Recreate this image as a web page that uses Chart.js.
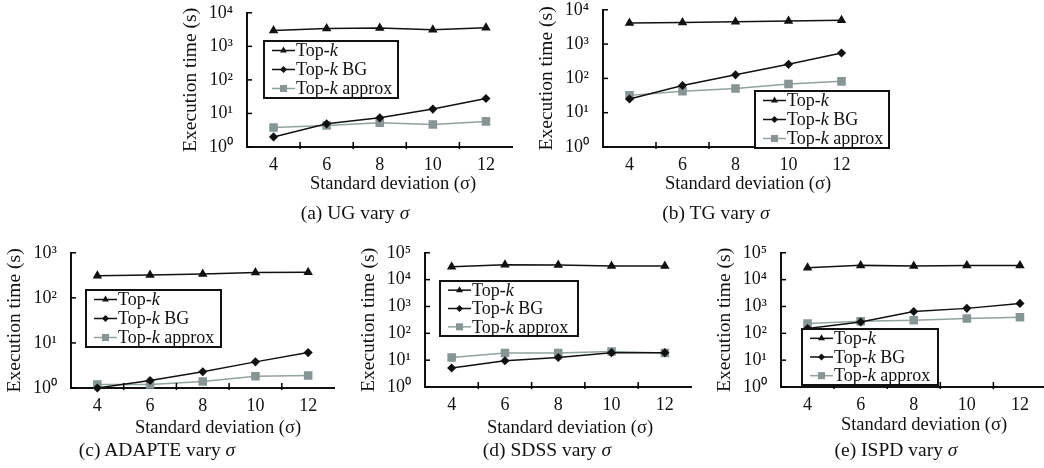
<!DOCTYPE html>
<html>
<head>
<meta charset="utf-8">
<script src="https://cdn.jsdelivr.net/npm/chart.js@4.4.1/dist/chart.umd.min.js"></script>
<style>
  html, body { margin: 0; padding: 0; background: #fff; overflow: hidden; width: 1044px; height: 468px; position: relative; }
  canvas { position: absolute; }
  .lbl { position: absolute; font-family: "Liberation Serif", "Times New Roman", serif; color: #111; white-space: nowrap; transform: translate(-50%, -50%); }
  .xt { font-size: 18.5px; }
  .cap { font-size: 19.5px; }
</style>
</head>
<body>
<script>
const sigma = [4, 6, 8, 10, 12];

// UG
const ugTopk = [2950, 3400, 3550, 3100, 3600];
const ugBG = [2.0, 4.9, 7.4, 13.5, 28];
const ugApprox = [3.8, 4.4, 5.3, 4.7, 5.8];
// TG
const tgTopk = [4100, 4250, 4450, 4750, 5000];
const tgBG = [25, 62, 127, 257, 550];
const tgApprox = [32, 42, 51, 69, 82];
// ADAPTE
const adTopk = [310, 320, 337, 365, 370];
const adBG = [1.0, 1.47, 2.3, 3.8, 6.1];
const adApprox = [1.2, 1.2, 1.4, 1.83, 1.9];
// SDSS
const sdTopk = [30000, 36000, 35000, 32000, 32000];
const sdBG = [5.1, 9.5, 12.5, 19, 19];
const sdApprox = [12.5, 18.6, 18.6, 21, 18.6];
// ISPD
const isTopk = [28000, 34000, 32000, 34000, 34000];
const isBG = [152, 264, 650, 850, 1300];
const isApprox = [230, 280, 305, 355, 400];

const seriesLabels = ['Top-k', 'Top-k BG', 'Top-k approx'];
const xTitle = 'Standard deviation (σ)';
const yTitle = 'Execution time (s)';

const FONT = '"Liberation Serif", "Times New Roman", serif';
const GRAY_LINE = '#93a1a1';
const GRAY_MARK = '#879595';

// page layout of every panel (plot box, legend box, html labels)
const panels = [
  { tag: '(a)', name: 'UG', topk: ugTopk, bg: ugBG, approx: ugApprox, yMax: 1e4,
    box: { left: 247, right: 513, top: 10, bottom: 147 }, legend: { x: 264, y: 41, w: 134, h: 57 },
    xt: [393, 183], cap: [355, 213] },
  { tag: '(b)', name: 'TG', topk: tgTopk, bg: tgBG, approx: tgApprox, yMax: 1e4,
    box: { left: 603, right: 868, top: 7, bottom: 147 }, legend: { x: 755, y: 91, w: 134, h: 57 },
    xt: [748, 183], cap: [716, 213] },
  { tag: '(c)', name: 'ADAPTE', topk: adTopk, bg: adBG, approx: adApprox, yMax: 1e3,
    box: { left: 71, right: 335, top: 250, bottom: 388 }, legend: { x: 86, y: 290, w: 135, h: 57 },
    xt: [218, 427], cap: [157, 450] },
  { tag: '(d)', name: 'SDSS', topk: sdTopk, bg: sdBG, approx: sdApprox, yMax: 1e5,
    box: { left: 425, right: 692, top: 250, bottom: 387 }, legend: { x: 440, y: 281, w: 138, h: 55 },
    xt: [570, 427], cap: [547, 450] },
  { tag: '(e)', name: 'ISPD', topk: isTopk, bg: isBG, approx: isApprox, yMax: 1e5,
    box: { left: 781, right: 1047, top: 250, bottom: 387 }, legend: { x: 802, y: 329, w: 136, h: 56 },
    xt: [924, 424], cap: [896, 450] }
];

const YW = 72, XH = 30, PT = 14, PR = 6;
const SUP = ['⁰', '¹', '²', '³', '⁴', '⁵'];

// same marker shapes as the datasets use
function drawMarker(ctx, style, x, y, r, color) {
  ctx.save();
  ctx.fillStyle = color;
  ctx.beginPath();
  if (style === 'triangle') {
    for (let k = 0; k < 3; k++) {
      const a = -Math.PI / 2 + k * 2 * Math.PI / 3;
      const px = x + Math.cos(a) * r, py = y + Math.sin(a) * r;
      k === 0 ? ctx.moveTo(px, py) : ctx.lineTo(px, py);
    }
  } else if (style === 'rectRot') {
    ctx.moveTo(x, y - r);
    ctx.lineTo(x + r, y);
    ctx.lineTo(x, y + r);
    ctx.lineTo(x - r, y);
  } else {
    const s = Math.SQRT1_2 * r;
    ctx.rect(x - s, y - s, 2 * s, 2 * s);
  }
  ctx.closePath();
  ctx.fill();
  ctx.restore();
}

// inward tick marks, like the original figure
const tickMarks = {
  id: 'tickMarks',
  afterDatasetsDraw(chart) {
    const { ctx, scales: { x, y } } = chart;
    ctx.save();
    ctx.strokeStyle = '#000';
    ctx.lineWidth = 1.5;
    [5, 7, 9, 11].forEach(v => {
      const px = x.getPixelForValue(v);
      ctx.beginPath();
      ctx.moveTo(px, y.bottom + 2);
      ctx.lineTo(px, y.bottom - 5);
      ctx.stroke();
    });
    y.ticks.forEach(t => {
      const py = y.getPixelForValue(t.value);
      ctx.beginPath();
      ctx.moveTo(x.left, py);
      ctx.lineTo(x.left + 5, py);
      ctx.stroke();
    });
    ctx.restore();
  }
};

// boxed legend with italic k
const boxLegend = {
  id: 'boxLegend',
  afterDraw(chart, args, opts) {
    const { ctx } = chart;
    const b = opts.box;
    ctx.save();
    ctx.fillStyle = '#fff';
    ctx.fillRect(b.x, b.y, b.w, b.h);
    ctx.strokeStyle = '#111';
    ctx.lineWidth = 2;
    ctx.strokeRect(b.x, b.y, b.w, b.h);
    const rowH = b.h / 3;
    chart.data.datasets.forEach((ds, i) => {
      const cy = b.y + rowH * (i + 0.5);
      const x0 = b.x + 8, x1 = b.x + 31;
      ctx.strokeStyle = ds.borderColor;
      ctx.lineWidth = 1.5;
      ctx.beginPath();
      ctx.moveTo(x0, cy);
      ctx.lineTo(x1, cy);
      ctx.stroke();
      drawMarker(ctx, ds.pointStyle, (x0 + x1) / 2, cy, ds.pointRadius, ds.pointBackgroundColor);
      ctx.fillStyle = '#111';
      ctx.textBaseline = 'middle';
      let tx = x1 + 1;
      const parts = [['Top-', 'normal'], ['k', 'italic'], [ds.label.slice(5), 'normal']];
      parts.forEach(([s, st]) => {
        ctx.font = st + ' 18px ' + FONT;
        ctx.fillText(s, tx, cy + 1);
        tx += ctx.measureText(s).width;
      });
    });
    ctx.restore();
  }
};

function series(vals) {
  return sigma.map((s, i) => ({ x: s, y: vals[i] }));
}

panels.forEach(p => {
  const c = document.createElement('canvas');
  const L = p.box.left - YW, T = p.box.top - PT;
  const padR = Math.max(PR, p.legend.x + p.legend.w + 3 - p.box.right);
  const W = p.box.right - p.box.left + YW + padR;
  const H = p.box.bottom - p.box.top + PT + XH;
  c.style.left = L + 'px';
  c.style.top = T + 'px';
  c.style.width = W + 'px';
  c.style.height = H + 'px';
  c.width = W;
  c.height = H;
  document.body.appendChild(c);

  const powers = [];
  for (let v = 1; v <= p.yMax; v *= 10) powers.push(v);

  new Chart(c, {
    type: 'line',
    data: {
      datasets: [
        { label: seriesLabels[0], data: series(p.topk), borderColor: '#111', pointBackgroundColor: '#111',
          pointBorderColor: '#111', pointStyle: 'triangle', pointRadius: 4, borderWidth: 1.5 },
        { label: seriesLabels[1], data: series(p.bg), borderColor: '#111', pointBackgroundColor: '#111',
          pointBorderColor: '#111', pointStyle: 'rectRot', pointRadius: 3.5, borderWidth: 1.5 },
        { label: seriesLabels[2], data: series(p.approx), borderColor: GRAY_LINE, pointBackgroundColor: GRAY_MARK,
          pointBorderColor: GRAY_MARK, pointStyle: 'rect', pointRadius: 5, borderWidth: 1.5 }
      ]
    },
    options: {
      responsive: false,
      animation: false,
      clip: false,
      layout: { padding: { top: PT, right: padR, left: 0, bottom: 0 } },
      plugins: {
        legend: { display: false },
        tooltip: { enabled: false },
        boxLegend: { box: { x: p.legend.x - L, y: p.legend.y - T, w: p.legend.w, h: p.legend.h } }
      },
      scales: {
        x: {
          type: 'linear', min: 3, max: 13,
          grid: { display: false },
          border: { display: true, color: '#111', width: 2 },
          ticks: {
            stepSize: 1, autoSkip: false, maxRotation: 0, padding: -1, color: '#111',
            font: { family: FONT, size: 18 },
            callback: v => (v % 2 === 0 && v >= 4 && v <= 12) ? String(v) : ''
          },
          afterFit: s => { s.height = XH; }
        },
        y: {
          type: 'logarithmic', min: 1, max: p.yMax,
          grid: { display: false },
          border: { display: true, color: '#111', width: 2 },
          afterBuildTicks: s => { s.ticks = powers.map(v => ({ value: v })); },
          ticks: {
            padding: 6, color: '#111',
            font: { family: FONT, size: 18 },
            callback: v => '10' + SUP[Math.round(Math.log10(v))]
          },
          title: { display: true, text: yTitle, color: '#111', font: { family: FONT, size: 19.5 }, padding: { top: 4, bottom: 0 } },
          afterFit: s => { s.width = YW; }
        }
      }
    },
    plugins: [tickMarks, boxLegend]
  });

  const xt = document.createElement('div');
  xt.className = 'lbl xt';
  xt.style.left = p.xt[0] + 'px';
  xt.style.top = p.xt[1] + 'px';
  xt.textContent = xTitle;
  document.body.appendChild(xt);

  const cap = document.createElement('div');
  cap.className = 'lbl cap';
  cap.style.left = p.cap[0] + 'px';
  cap.style.top = p.cap[1] + 'px';
  cap.innerHTML = p.tag + ' ' + p.name + ' vary <i>σ</i>';
  document.body.appendChild(cap);
});
</script>
</body>
</html>
